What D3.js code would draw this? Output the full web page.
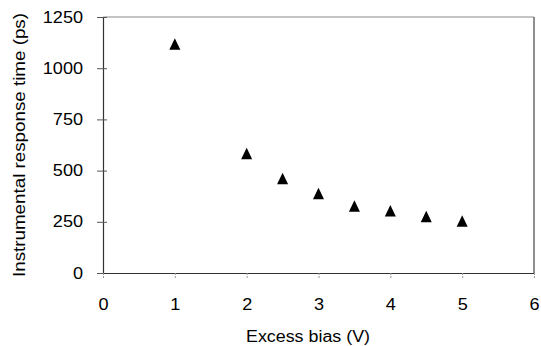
<!DOCTYPE html>
<html>
<head>
<meta charset="utf-8">
<script src="https://cdn.jsdelivr.net/npm/d3@7"></script>
<style>
  html, body { margin: 0; padding: 0; background: #fff; }
  svg { display: block; }
  text { font-family: "Liberation Sans", Arial, sans-serif; fill: #000; }
</style>
</head>
<body>
<svg id="chart" width="541" height="346"></svg>
<script>
const excessBias = [1, 2, 2.5, 3, 3.5, 4, 4.5, 5];
const responseTime = [1118, 583, 461, 388, 327, 304, 276, 254];
const xTicks = [0, 1, 2, 3, 4, 5, 6];
const yTicks = [0, 250, 500, 750, 1000, 1250];
const xTitle = "Excess bias (V)";
const yTitle = "Instrumental response time (ps)";

const svg = d3.select("#chart");
const plotL = 103, plotR = 534, plotT = 17, plotB = 273;
const x = d3.scaleLinear().domain([0, 6]).range([plotL, plotR]);
const y = d3.scaleLinear().domain([0, 1250]).range([plotB, plotT]);
const sx = 1.13;

// frame: top and right lines
svg.append("line").attr("x1", plotL).attr("x2", plotR).attr("y1", plotT).attr("y2", plotT)
  .attr("stroke", "#8a8a8a").attr("stroke-width", 1);
svg.append("line").attr("x1", plotR).attr("x2", plotR).attr("y1", plotT).attr("y2", plotB)
  .attr("stroke", "#444").attr("stroke-width", 1.2);

// y axis
const gy = svg.append("g").attr("transform", `translate(${plotL},0)`)
  .call(d3.axisLeft(y).tickValues(yTicks).tickFormat(d3.format("d"))
    .tickSizeInner(6).tickSizeOuter(0).tickPadding(14));
gy.select(".domain").attr("stroke", "#333").attr("stroke-width", 1.2);
gy.selectAll(".tick line").attr("x1", 4).attr("stroke", "#555");
gy.selectAll(".tick text")
  .attr("font-size", 16)
  .attr("font-family", "Liberation Sans, Arial, sans-serif")
  .attr("x", -20 / sx)
  .attr("transform", `scale(${sx},1)`);

// x axis
const gx = svg.append("g").attr("transform", `translate(0,${plotB})`)
  .call(d3.axisBottom(x).tickValues(xTicks).tickFormat(d3.format("d"))
    .tickSizeInner(6).tickSizeOuter(0).tickPadding(19.6));
gx.select(".domain").attr("stroke", "#333").attr("stroke-width", 1.2);
gx.selectAll(".tick line").attr("stroke", "#999").attr("stroke-dasharray", "2,1");
gx.selectAll(".tick text")
  .attr("font-size", 16)
  .attr("font-family", "Liberation Sans, Arial, sans-serif")
  .attr("transform", `scale(${sx},1)`);

// titles
svg.append("text")
  .attr("x", 308).attr("y", 342)
  .attr("text-anchor", "middle")
  .attr("font-size", 16)
  .attr("textLength", 124).attr("lengthAdjust", "spacingAndGlyphs")
  .text(xTitle);

svg.append("text")
  .attr("transform", `translate(25,145) rotate(-90)`)
  .attr("text-anchor", "middle")
  .attr("font-size", 16)
  .attr("textLength", 264).attr("lengthAdjust", "spacingAndGlyphs")
  .text(yTitle);

// triangle markers
const tri = {
  draw(ctx, size) {
    const w = Math.sqrt(size) * 0.96, h = Math.sqrt(size);
    ctx.moveTo(0, -h / 2);
    ctx.lineTo(w / 2, h / 2);
    ctx.lineTo(-w / 2, h / 2);
    ctx.closePath();
  }
};
const symbol = d3.symbol().type(tri).size(132);
svg.append("g").selectAll("path")
  .data(excessBias.map((v, i) => ({ v, t: responseTime[i] })))
  .join("path")
  .attr("transform", d => `translate(${x(d.v)},${y(d.t)})`)
  .attr("d", symbol)
  .attr("fill", "#000");
</script>
</body>
</html>
